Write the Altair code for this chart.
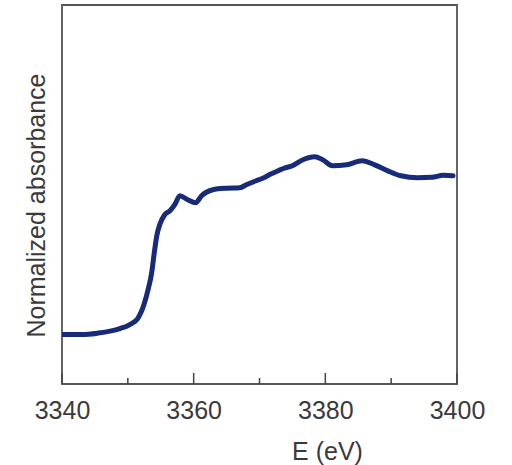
import altair as alt
import pandas as pd

# Energy (eV) and normalized absorbance
energy = [3340.0, 3343.0, 3345.5, 3347.3, 3348.8, 3350.3, 3351.5, 3352.5, 3353.0, 3353.6,
          3354.1, 3354.4, 3354.9, 3355.6, 3356.4, 3357.2, 3357.9, 3359.1, 3360.3, 3361.2,
          3362.9, 3365.0, 3367.0, 3368.0, 3369.5, 3370.3, 3371.8, 3373.9, 3375.0, 3376.6,
          3378.4, 3379.6, 3381.1, 3383.2, 3385.6, 3387.5, 3389.5, 3391.5, 3394.0, 3396.2,
          3397.9, 3399.4]
absorbance = [0.000, 0.000, 0.010, 0.023, 0.040, 0.067, 0.107, 0.207, 0.287, 0.407,
              0.573, 0.660, 0.740, 0.800, 0.827, 0.873, 0.927, 0.900, 0.880, 0.927,
              0.967, 0.977, 0.980, 1.000, 1.027, 1.040, 1.073, 1.113, 1.127, 1.167,
              1.187, 1.167, 1.127, 1.133, 1.160, 1.133, 1.093, 1.060, 1.047, 1.050,
              1.063, 1.060]
major_ticks = [3340, 3360, 3380, 3400]
minor_ticks = [3350, 3370, 3390]

W, H = 395, 379
FONT = "Liberation Sans"
TEXT = "#3a3a3a"

df = pd.DataFrame({"E": energy, "A": absorbance})
xscale = alt.Scale(domain=[3340, 3400], nice=False, zero=False)
yscale = alt.Scale(domain=[-0.33, 2.2], nice=False, zero=False)

x_axis = alt.Axis(
    values=major_ticks, format="d", title="E (eV)", grid=False,
    ticks=False, domain=False, labelFlush=False,
    labelFont=FONT, labelFontSize=25, labelColor=TEXT, labelPadding=14,
    titleFont=FONT, titleFontSize=25, titleColor=TEXT, titleFontWeight="normal",
    titleX=265, titleY=67, titleAlign="center", titleBaseline="middle")

line = alt.Chart(df).mark_line(
    color="#172b7a", strokeWidth=5, strokeJoin="round", strokeCap="round",
    interpolate="monotone", clip=True
).encode(
    x=alt.X("E:Q", scale=xscale, axis=x_axis),
    y=alt.Y("A:Q", scale=yscale, axis=alt.Axis(
        labels=False, ticks=False, domain=False, grid=False,
        title="Normalized absorbance",
        titleFont=FONT, titleFontSize=25, titleColor=TEXT, titleFontWeight="normal",
        titleAngle=270, titleX=-26, titleY=200, titleAlign="center",
        titleBaseline="middle")),
)

major = alt.Chart(pd.DataFrame({"t": major_ticks})).mark_rule(
    color="#444", strokeWidth=1.5
).encode(
    x=alt.X("t:Q", scale=xscale, axis=x_axis),
    y=alt.value(H - 11), y2=alt.value(H),
)
minor = alt.Chart(pd.DataFrame({"t": minor_ticks})).mark_rule(
    color="#444", strokeWidth=1.5
).encode(
    x=alt.X("t:Q", scale=xscale, axis=x_axis),
    y=alt.value(H - 6), y2=alt.value(H),
)

chart = alt.layer(line, major, minor).properties(
    width=W, height=H,
    background="white",
    autosize=alt.AutoSizeParams(type="none"),
    padding={"left": 62, "top": 5, "right": 55, "bottom": 81},
).configure_view(stroke="#555", strokeWidth=1.8)

chart.save("out.html", embed_options={"renderer": "svg", "actions": False})
